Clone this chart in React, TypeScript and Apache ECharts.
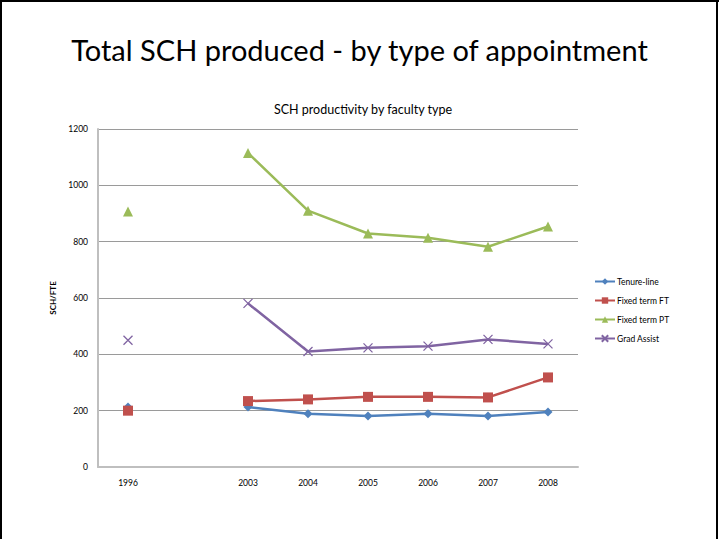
import React, { useEffect, useRef } from "react";
import * as echarts from "echarts";

const categories = ["1996", "", "2003", "2004", "2005", "2006", "2007", "2008"];
const tenureLine = [213, null, 213, 189, 181, 189, 181, 195];
const fixedTermFT = [200, null, 234, 240, 249, 249, 247, 318];
const fixedTermPT = [907, null, 1115, 910, 829, 814, 782, 854];
const gradAssist = [450, null, 581, 410, 423, 429, 453, 437];
const seriesNames = ["Tenure-line", "Fixed term FT", "Fixed term PT", "Grad Assist"];
const colors = ["#4F81BD", "#C0504D", "#9BBB59", "#8064A2"];

export default function App() {
  const ref = useRef<HTMLDivElement>(null);
  useEffect(() => {
    if (!ref.current) return;
    const chart = echarts.init(ref.current, null, { renderer: "svg" });
    const font = "Lato, 'Open Sans', sans-serif";
    const mk = (name: string, data: (number | null)[], color: string, symbol: string, size: number, extra: any = {}) => ({
      name,
      type: "line",
      data,
      symbol,
      symbolSize: size,
      showSymbol: true,
      showAllSymbol: true,
      connectNulls: false,
      lineStyle: { color, width: 2.5 },
      itemStyle: { color, ...extra },
      z: 3,
    });
    chart.setOption({
      animation: false,
      backgroundColor: "#ffffff",
      textStyle: { fontFamily: font },
      title: [
        {
          text: "Total SCH produced - by type of appointment",
          left: "center",
          top: 30,
          textStyle: { fontFamily: font, fontSize: 29, fontWeight: "normal", color: "#000" },
        },
        {
          text: "SCH productivity by faculty type",
          left: 358,
          textAlign: "center",
          top: 98,
          textStyle: { fontFamily: font, fontSize: 12.5, fontWeight: "normal", color: "#000" },
        },
      ],
      legend: {
        orient: "vertical",
        left: 594,
        top: 277,
        padding: 0,
        itemWidth: 20,
        itemHeight: 8,
        itemGap: 10,
        textStyle: { fontFamily: font, fontSize: 8.5, color: "#000", padding: [0, 0, 0, -3] },
        data: seriesNames,
      },
      grid: { left: 98, right: 141, top: 129, bottom: 72 },
      xAxis: {
        type: "category",
        data: categories,
        boundaryGap: true,
        axisLine: { lineStyle: { color: "#BFBFBF", width: 2 } },
        axisTick: { show: false },
        axisLabel: { color: "#000", fontSize: 8.5, margin: 11, fontFamily: font },
        splitLine: { show: false },
      },
      yAxis: {
        type: "value",
        min: 0,
        max: 1200,
        interval: 200,
        name: "SCH/FTE",
        nameLocation: "middle",
        nameRotate: 90,
        nameGap: 38,
        nameTextStyle: { fontSize: 8, fontWeight: "bold", color: "#000", fontFamily: font },
        axisLine: { show: true, lineStyle: { color: "#BFBFBF", width: 2 } },
        axisTick: { show: false },
        axisLabel: {
          color: "#000",
          fontSize: 8.5,
          margin: 10,
          fontFamily: font,
          formatter: (v: number) => String(v),
        },
        splitLine: { lineStyle: { color: "#9A9A9A", width: 1 } },
      },
      series: [
        mk(seriesNames[0], tenureLine, colors[0], "diamond", 9),
        mk(seriesNames[1], fixedTermFT, colors[1], "rect", 10),
        mk(seriesNames[2], fixedTermPT, colors[2], "triangle", 10),
        mk(seriesNames[3], gradAssist, colors[3], "path://M0,0 L10,10 M10,0 L0,10", 9, {
          borderColor: colors[3],
          borderWidth: 1.3,
        }),
      ],
      graphic: [
        { type: "rect", left: 0, top: 0, shape: { width: 2, height: 539 }, style: { fill: "#000" }, z: 100 },
        { type: "rect", left: 0, top: 0, shape: { width: 719, height: 2 }, style: { fill: "#000" }, z: 100 },
        { type: "rect", left: 716, top: 0, shape: { width: 2, height: 539 }, style: { fill: "#000" }, z: 100 },
      ],
    });
    return () => chart.dispose();
  }, []);
  return (
    <div
      ref={ref}
      style={{ position: "absolute", left: 0, top: 0, width: 719, height: 539 }}
    />
  );
}
